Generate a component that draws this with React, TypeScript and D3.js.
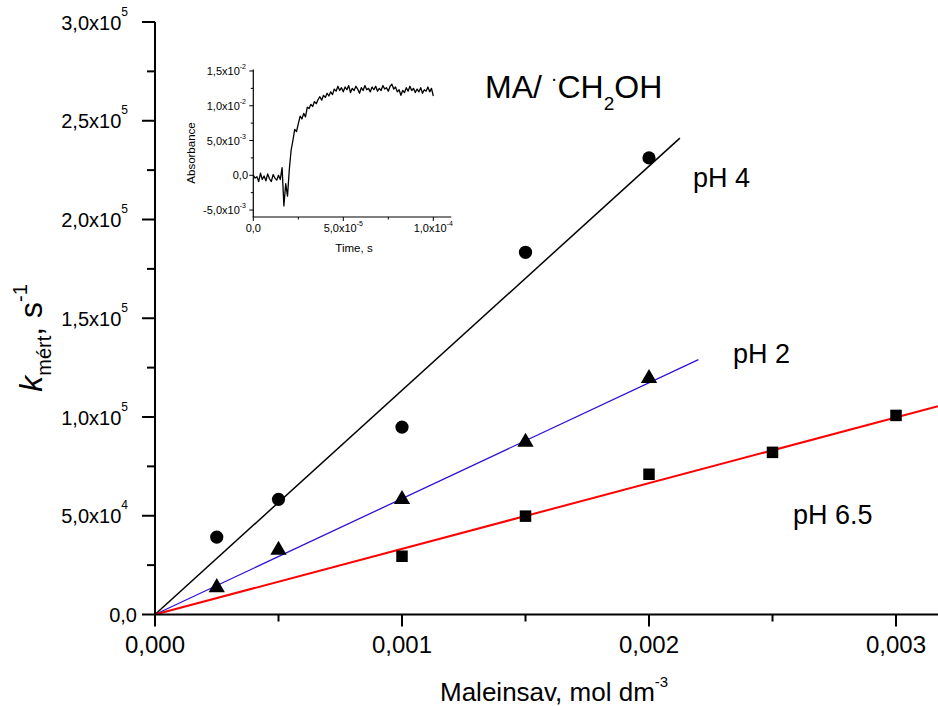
import React from 'react';
import * as d3 from 'd3';

// ---- main chart data ----
const concPH4 = [0.00025, 0.0005, 0.001, 0.0015, 0.002];
const kPH4 = [39200, 58300, 94900, 183400, 231200];
const concPH2 = [0.00025, 0.0005, 0.001, 0.0015, 0.002];
const kPH2 = [13700, 32600, 58300, 87300, 119600];
const concPH65 = [0.001, 0.0015, 0.002, 0.0025, 0.003];
const kPH65 = [29500, 49800, 71000, 82100, 100800];

// linear fits through origin: slope and x where the drawn line ends
const fitSlopes = [1.135e8, 5.867e7, 3.325e7];
const fitEnds = [0.002125, 0.0022, 0.00317];
const fitColors = ['#000000', '#2e10d8', '#ff0000'];
const fitWidths = [1.5, 1.3, 2];

const xTickValues = [0, 0.0005, 0.001, 0.0015, 0.002, 0.0025, 0.003];
const xTickLabels = ['0,000', '', '0,001', '', '0,002', '', '0,003'];
const yTickValues = [0, 25000, 50000, 75000, 100000, 125000, 150000, 175000, 200000, 225000, 250000, 275000, 300000];
const yTickMant = ['0,0', '', '5,0', '', '1,0', '', '1,5', '', '2,0', '', '2,5', '', '3,0'];
const yTickExp = ['', '', '4', '', '5', '', '5', '', '5', '', '5', '', '5'];

// ---- inset trace (absorbance x1e-3, sampled every 1 µs) ----
const insetStep = 1e-6;
const insetAbs = [
  0.0, -0.4, -0.2, -0.9, 0.3, -0.6, -0.1, -0.8, 0.2, -0.5,
  -0.9, 0.1, -0.4, -0.7, 0.0, -0.6, 1.1, -4.4, -1.2, -3.0,
  0.8, 3.6, 5.0, 6.6, 6.3, 7.4, 8.5, 8.1, 8.9, 8.4,
  9.8, 9.6, 10.2, 9.9, 10.6, 10.3, 10.9, 11.3, 10.8, 11.5,
  11.2, 11.8, 11.4, 12.0, 11.6, 12.4, 12.1, 12.8, 12.2, 12.6,
  12.0, 12.7, 12.3, 12.9, 11.9, 12.5, 12.2, 12.8, 12.4, 11.8,
  12.6, 12.2, 12.9, 12.3, 12.5, 12.0, 12.7, 12.3, 12.8, 12.1,
  12.5, 12.2, 12.9, 12.4, 12.6, 12.1, 12.8, 13.1, 12.4, 12.7,
  12.0, 12.3, 11.5, 12.2, 11.9, 12.6, 12.1, 12.8, 12.2, 12.5,
  11.9, 12.4, 12.0, 12.6, 11.8, 12.3, 12.1, 12.7, 12.0, 12.5,
  11.4,
];
const insetXTicks = [0, 2.5e-5, 5e-5, 7.5e-5, 1e-4];
const insetXMant = ['0,0', '', '5,0', '', '1,0'];
const insetXExp = ['', '', '-5', '', '-4'];
const insetYTicks = [-5e-3, -2.5e-3, 0, 2.5e-3, 5e-3, 7.5e-3, 1e-2, 1.25e-2, 1.5e-2];
const insetYMant = ['-5,0', '', '0,0', '', '5,0', '', '1,0', '', '1,5'];
const insetYExp = ['-3', '', '', '', '-3', '', '-2', '', '-2'];

const FONT = "'Liberation Sans', Arial, Helvetica, sans-serif";

export default function App() {
  const W = 938, H = 706;
  const x = d3.scaleLinear().domain([0, 0.00317]).range([155, 938]);
  const y = d3.scaleLinear().domain([0, 3e5]).range([614.5, 22]);

  const ix = d3.scaleLinear().domain([0, 1.1e-4]).range([253.3, 451.3]);
  const iy = d3.scaleLinear().domain([-6e-3, 1.52e-2]).range([217, 69.6]);
  const tracePath = d3.line<number>()
    .x((_, i) => ix(i * insetStep))
    .y((v) => iy(v * 1e-3))(insetAbs) || '';

  const circle = d3.symbol().type(d3.symbolCircle).size(Math.PI * 6.6 * 6.6)() || '';
  const tri = d3.symbol().type(d3.symbolTriangle).size(115)() || '';
  const sq = d3.symbol().type(d3.symbolSquare).size(11.5 * 11.5)() || '';

  const series = [
    { xs: concPH4, ys: kPH4, shape: circle },
    { xs: concPH2, ys: kPH2, shape: tri },
    { xs: concPH65, ys: kPH65, shape: sq },
  ];

  return (
    <svg width={W} height={H} style={{ position: 'absolute', left: 0, top: 0, background: '#fff' }} fontFamily={FONT}>
      <rect x={0} y={0} width={W} height={H} fill="#fff" />

      {/* fit lines */}
      {fitSlopes.map((s, i) => (
        <line key={'fit' + i} x1={x(0)} y1={y(0)} x2={x(fitEnds[i])} y2={y(s * fitEnds[i])}
          stroke={fitColors[i]} strokeWidth={fitWidths[i]} />
      ))}

      {/* markers */}
      {series.map((sr, si) => sr.xs.map((xv, i) => (
        <path key={`m${si}-${i}`} d={sr.shape} transform={`translate(${x(xv)},${y(sr.ys[i])})`} fill="#000" />
      )))}

      {/* axes */}
      <line x1={x(0)} y1={y(0)} x2={x(0)} y2={y(3e5)} stroke="#000" strokeWidth={2} />
      <line x1={x(0) - 1} y1={y(0)} x2={W} y2={y(0)} stroke="#000" strokeWidth={2} />
      {xTickValues.map((v, i) => (
        <g key={'xt' + i}>
          <line x1={x(v)} x2={x(v)} y1={y(0)} y2={y(0) + (xTickLabels[i] ? 12 : 7)} stroke="#000" strokeWidth={2} />
          {xTickLabels[i] && (
            <text x={x(v)} y={653} fontSize={24} textAnchor="middle">{xTickLabels[i]}</text>
          )}
        </g>
      ))}
      {yTickValues.map((v, i) => (
        <g key={'yt' + i}>
          <line x1={x(0)} x2={x(0) - (yTickMant[i] ? 13 : 8)} y1={y(v)} y2={y(v)} stroke="#000" strokeWidth={2} />
          {yTickMant[i] && (
            <text x={yTickExp[i] ? 128 : 137} y={y(v) + 7.5} fontSize={20} textAnchor="end">
              {yTickMant[i]}{yTickExp[i] ? 'x10' : ''}
              {yTickExp[i] && <tspan fontSize={12} dy={-14}>{yTickExp[i]}</tspan>}
            </text>
          )}
        </g>
      ))}

      {/* axis titles */}
      <text x={440} y={701} fontSize={26}>
        Maleinsav, mol dm<tspan fontSize={15} dy={-14}>-3</tspan>
      </text>
      <text transform="translate(42,338) rotate(-90)" textAnchor="middle" fontSize={32}>
        <tspan fontStyle="italic">k</tspan>
        <tspan fontSize={20} dy={9}>mért</tspan>
        <tspan dy={-9}>, s</tspan>
        <tspan fontSize={20} dy={-15}>-1</tspan>
      </text>

      {/* series labels */}
      <text x={693} y={187} fontSize={27}>pH 4</text>
      <text x={733} y={363} fontSize={27}>pH 2</text>
      <text x={793} y={524} fontSize={27}>pH 6.5</text>

      {/* title */}
      <text x={485} y={98} fontSize={32}>
        MA/ <tspan fontSize={20} dy={-13}>·</tspan>
        <tspan dy={13}>CH</tspan>
        <tspan fontSize={19} dy={12}>2</tspan>
        <tspan dy={-12}>OH</tspan>
      </text>

      {/* inset */}
      <g>
        <path d={tracePath} fill="none" stroke="#000" strokeWidth={1.3} strokeLinejoin="round" />
        <line x1={ix(0)} y1={iy(-6e-3)} x2={ix(0)} y2={iy(1.52e-2)} stroke="#000" strokeWidth={1.2} />
        <line x1={ix(0) - 0.6} y1={iy(-6e-3)} x2={ix(1.1e-4)} y2={iy(-6e-3)} stroke="#000" strokeWidth={1.2} />
        {insetXTicks.map((v, i) => (
          <g key={'ixt' + i}>
            <line x1={ix(v)} x2={ix(v)} y1={iy(-6e-3)} y2={iy(-6e-3) + (insetXMant[i] ? 4 : 2.5)} stroke="#000" strokeWidth={1} />
            {insetXMant[i] && (
              <text x={ix(v)} y={232} fontSize={11} textAnchor="middle">
                {insetXMant[i]}{insetXExp[i] ? 'x10' : ''}
                {insetXExp[i] && <tspan fontSize={7} dy={-6}>{insetXExp[i]}</tspan>}
              </text>
            )}
          </g>
        ))}
        {insetYTicks.map((v, i) => (
          <g key={'iyt' + i}>
            <line x1={ix(0)} x2={ix(0) - (insetYMant[i] ? 4 : 2.5)} y1={iy(v)} y2={iy(v)} stroke="#000" strokeWidth={1} />
            {insetYMant[i] && (
              <text x={insetYExp[i] ? 246 : 248} y={iy(v) + 4} fontSize={11} textAnchor="end">
                {insetYMant[i]}{insetYExp[i] ? 'x10' : ''}
                {insetYExp[i] && <tspan fontSize={7} dy={-6}>{insetYExp[i]}</tspan>}
              </text>
            )}
          </g>
        ))}
        <text x={354} y={252} fontSize={11.5} textAnchor="middle">Time, s</text>
        <text transform="translate(195,153) rotate(-90)" fontSize={11.5} textAnchor="middle">Absorbance</text>
      </g>
    </svg>
  );
}
